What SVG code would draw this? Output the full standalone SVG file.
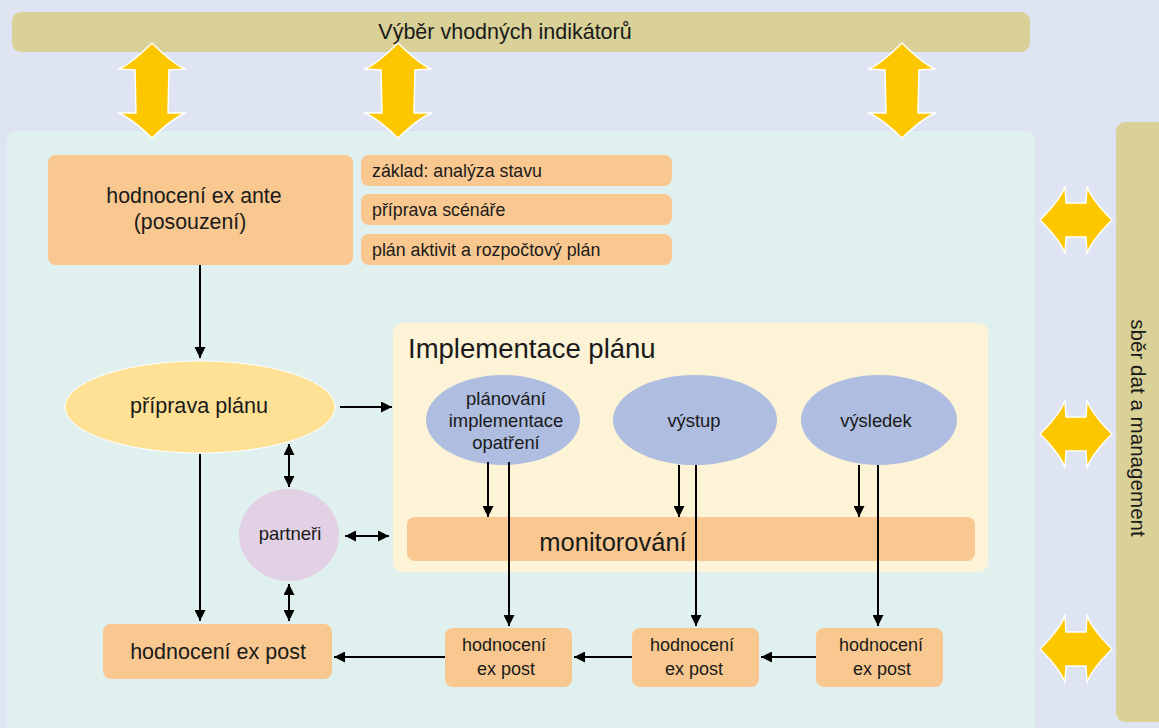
<svg xmlns="http://www.w3.org/2000/svg" width="1159" height="728" viewBox="0 0 1159 728">
<defs>
<style>
text{font-family:"Liberation Sans",Arial,sans-serif;fill:#1a1a1a}
.big{fill:#e0f0ef}
.bar{fill:#d9d197}
.box{fill:#f9c890}
.blue{fill:#aebde0}
.ya{fill:#fdc700;stroke:#ffffff;stroke-width:1.5}
.c{stroke:#000;stroke-width:2;fill:none}
.s{font-size:17.8px}
.e{font-size:18.4px;text-anchor:middle}
.h{font-size:18px;text-anchor:middle}
</style>
<marker id="ah" viewBox="0 0 10 10" refX="10" refY="5" markerWidth="11" markerHeight="11" markerUnits="userSpaceOnUse" orient="auto-start-reverse">
<path d="M0,0 L10,5 L0,10 z" fill="#000"/>
</marker>
</defs>
<rect width="1159" height="728" fill="#dfe4f2"/>

<g id="top-bar">
<rect x="12" y="12" width="1018" height="40" rx="9" class="bar"/>
<text x="505" y="39" font-size="21.5" text-anchor="middle">Výběr vhodných indikátorů</text>
</g>

<g id="right-bar">
<rect x="1116" y="122" width="60" height="600" rx="9" class="bar"/>
<text x="0" y="0" font-size="20.6" text-anchor="middle" transform="translate(1131,428) rotate(90)">sběr dat a management</text>
</g>

<g id="main-panel">
<rect x="7" y="131" width="1028" height="610" rx="9" class="big"/>
</g>

<g id="yellow-arrows">
<path class="ya" d="M152,43 Q130,65 118,69 L135,70 L136,113 L118,113 Q130,117 152,138 Q174,117 186,113 L168,113 L169,70 L186,69 Q174,65 152,43 Z"/>
<path class="ya" d="M398,43 Q376,65 364,69 L381,70 L382,113 L364,113 Q376,117 398,138 Q420,117 432,113 L414,113 L415,70 L432,69 Q420,65 398,43 Z"/>
<path class="ya" d="M902,43 Q880,65 868,69 L885,70 L886,113 L868,113 Q880,117 902,138 Q924,117 936,113 L918,113 L919,70 L936,69 Q924,65 902,43 Z"/>
<path class="ya" d="M1040,220 Q1061,199 1065,186 L1066,203 L1086,203 L1087,186 Q1091,199 1112,220 Q1091,241 1087,254 L1086,237 L1066,237 L1065,254 Q1061,241 1040,220 Z"/>
<path class="ya" d="M1040,434 Q1061,413 1065,400 L1066,417 L1086,417 L1087,400 Q1091,413 1112,434 Q1091,455 1087,468 L1086,451 L1066,451 L1065,468 Q1061,455 1040,434 Z"/>
<path class="ya" d="M1040,649 Q1061,628 1065,615 L1066,632 L1086,632 L1087,615 Q1091,628 1112,649 Q1091,670 1087,683 L1086,666 L1066,666 L1065,683 Q1061,670 1040,649 Z"/>
</g>

<g id="ex-ante">
<rect x="48" y="155" width="305" height="110" rx="8" class="box"/>
<text x="194" y="203" font-size="21.3" text-anchor="middle">hodnocení ex ante</text>
<text x="190" y="229" font-size="21.3" text-anchor="middle">(posouzení)</text>
</g>
<g id="zaklad">
<rect x="361" y="155" width="311" height="31" rx="8" class="box"/>
<text x="372" y="177" class="s">základ: analýza stavu</text>
</g>
<g id="priprava-scenare">
<rect x="361" y="194" width="311" height="31" rx="8" class="box"/>
<text x="372" y="216" class="s">příprava scénáře</text>
</g>
<g id="plan-aktivit">
<rect x="361" y="234" width="311" height="31" rx="8" class="box"/>
<text x="372" y="256" class="s">plán aktivit a rozpočtový plán</text>
</g>

<g id="priprava-planu">
<ellipse cx="200" cy="407" rx="135" ry="46" fill="#fee195" stroke="#fff" stroke-width="1"/>
<text x="199" y="413" font-size="21.6" text-anchor="middle">příprava plánu</text>
</g>

<g id="partneri">
<ellipse cx="289" cy="535" rx="50" ry="46" fill="#e2d0e4"/>
<text x="290" y="540" font-size="18.5" text-anchor="middle">partneři</text>
</g>

<g id="ex-post-main">
<rect x="103" y="624" width="229" height="55" rx="8" class="box"/>
<text x="218" y="659" font-size="21.5" text-anchor="middle">hodnocení ex post</text>
</g>

<g id="implementace">
<rect x="393" y="323" width="595" height="249" rx="9" fill="#fdf3d7"/>
<text x="408" y="358" font-size="27.5">Implementace plánu</text>
</g>

<g id="planovani">
<ellipse cx="503" cy="420" rx="77" ry="45" class="blue"/>
<text x="506" y="405" class="e">plánování</text>
<text x="506" y="427" class="e">implementace</text>
<text x="506" y="449" class="e">opatření</text>
</g>
<g id="vystup">
<ellipse cx="695" cy="420" rx="82" ry="45" class="blue"/>
<text x="694" y="427" class="e">výstup</text>
</g>
<g id="vysledek">
<ellipse cx="879" cy="420" rx="78" ry="45" class="blue"/>
<text x="876" y="427" class="e">výsledek</text>
</g>

<g id="monitorovani">
<rect x="407" y="517" width="568" height="44" rx="8" class="box"/>
<text x="613" y="551" font-size="25.5" text-anchor="middle">monitorování</text>
</g>

<g id="ex-post-1">
<rect x="445" y="628" width="127" height="59" rx="8" class="box"/>
<text x="504" y="651" class="h">hodnocení</text>
<text x="506" y="675" class="h">ex post</text>
</g>
<g id="ex-post-2">
<rect x="632" y="628" width="127" height="59" rx="8" class="box"/>
<text x="692" y="651" class="h">hodnocení</text>
<text x="694" y="675" class="h">ex post</text>
</g>
<g id="ex-post-3">
<rect x="816" y="628" width="127" height="59" rx="8" class="box"/>
<text x="881" y="651" class="h">hodnocení</text>
<text x="882" y="675" class="h">ex post</text>
</g>

<g id="connectors">
<line class="c" x1="200" y1="265" x2="200" y2="358" marker-end="url(#ah)"/>
<line class="c" x1="340" y1="407" x2="392" y2="407" marker-end="url(#ah)"/>
<line class="c" x1="200" y1="454" x2="200" y2="621" marker-end="url(#ah)"/>
<line class="c" x1="289" y1="444" x2="289" y2="487" marker-start="url(#ah)" marker-end="url(#ah)"/>
<line class="c" x1="345" y1="536" x2="389" y2="536" marker-start="url(#ah)" marker-end="url(#ah)"/>
<line class="c" x1="289" y1="584" x2="289" y2="621" marker-start="url(#ah)" marker-end="url(#ah)"/>
<line class="c" x1="488" y1="462" x2="488" y2="517" marker-end="url(#ah)"/>
<line class="c" x1="509" y1="462" x2="509" y2="626" marker-end="url(#ah)"/>
<line class="c" x1="679" y1="465" x2="679" y2="517" marker-end="url(#ah)"/>
<line class="c" x1="696" y1="465" x2="696" y2="626" marker-end="url(#ah)"/>
<line class="c" x1="859" y1="465" x2="859" y2="517" marker-end="url(#ah)"/>
<line class="c" x1="878" y1="465" x2="878" y2="626" marker-end="url(#ah)"/>
<line class="c" x1="816" y1="657" x2="761" y2="657" marker-end="url(#ah)"/>
<line class="c" x1="632" y1="657" x2="574" y2="657" marker-end="url(#ah)"/>
<line class="c" x1="445" y1="657" x2="334" y2="657" marker-end="url(#ah)"/>
</g>
</svg>
